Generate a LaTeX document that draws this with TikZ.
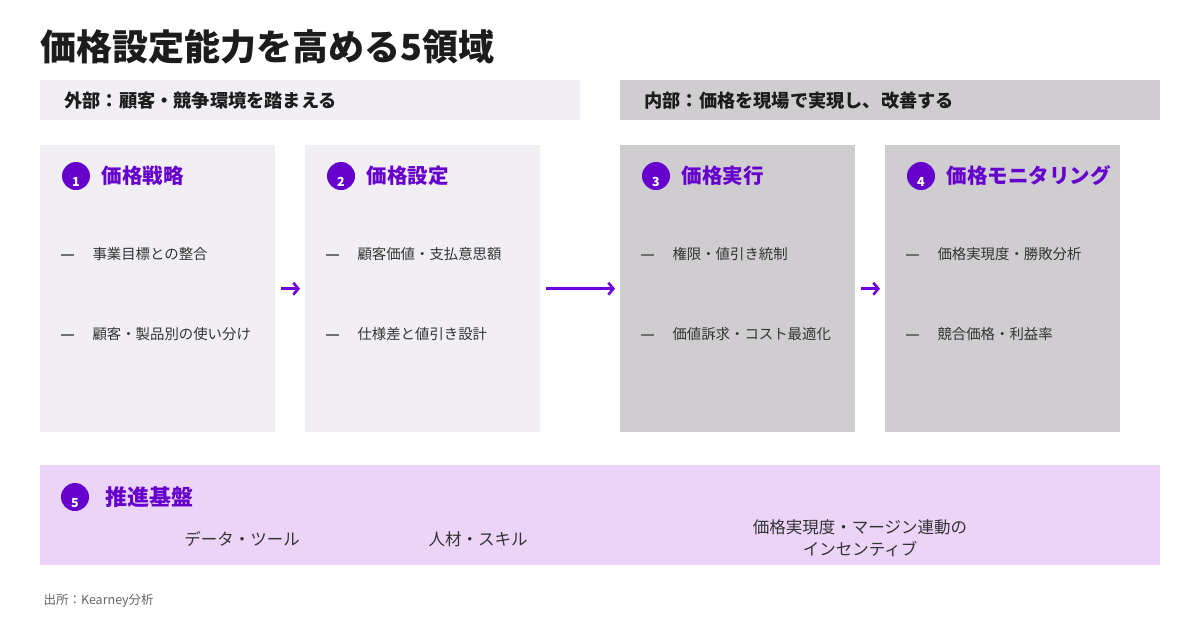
\documentclass[tikz,border=0pt]{standalone}
\usepackage{fontspec}
\setmainfont{Noto Sans CJK JP}
\usepackage{tikz}
\usetikzlibrary{positioning,arrows.meta}
\definecolor{figPurple}{HTML}{7000DC}
\definecolor{figDot}{HTML}{6600CC}
\definecolor{figInk}{HTML}{1C1C1C}
\definecolor{figText}{HTML}{333333}
\definecolor{figDash}{HTML}{707070}
\definecolor{figPale}{HTML}{F1EFF3}
\definecolor{figGray}{HTML}{D0CDD1}
\definecolor{figLavender}{HTML}{EBD4F7}
\definecolor{figSource}{HTML}{666666}

\begin{document}
\begin{tikzpicture}[x=1pt, y=-1pt,
  band/.style={anchor=north west, minimum width=540pt, minimum height=40pt, inner sep=0pt},
  bandtext/.style={anchor=west, text=figInk, font=\fontsize{18.2}{20}\selectfont\bfseries},
  card/.style={anchor=north west, minimum width=235pt, minimum height=287pt, inner sep=0pt},
  numdot/.style={circle, fill=figDot, minimum size=28pt, inner sep=0pt},
  numtext/.style={text=white, font=\fontsize{12.5}{13}\selectfont\bfseries, inner sep=0pt},
  cardtitle/.style={anchor=west, text=figDot, font=\fontsize{20.5}{24}\selectfont\bfseries},
  bulletdash/.style={draw=figDash, line width=1.4pt},
  item/.style={anchor=west, text=figText, font=\fontsize{14.4}{17}\selectfont},
  baseitem/.style={text=figText, font=\fontsize{16.5}{22}\selectfont, align=center},
  flow/.style={->, line width=2.6pt, figPurple, shorten <=6pt, shorten >=5pt},
  >={Straight Barb[length=5pt, width=12pt]}
]
\fill[white] (0,0) rectangle (1200,630);
\useasboundingbox (0,0) rectangle (1200,630);

% Title
\node[anchor=west, text=figInk, font=\fontsize{36}{40}\selectfont\bfseries] (title) at (37,47) {価格設定能力を高める5領域};

% External / internal bands
\node[band, fill=figPale] (extband) at (40,80) {};
\node[bandtext] (exttext) at ([xshift=21pt]extband.west) {外部：顧客・競争環境を踏まえる};
\node[band, fill=figGray] (intband) at (620,80) {};
\node[bandtext] (inttext) at ([xshift=21pt]intband.west) {内部：価格を現場で実現し、改善する};

% Four domain cards
\foreach \i/\x/\c/\t/\a/\b in {
    1/40/figPale/価格戦略/事業目標との整合/顧客・製品別の使い分け,
    2/305/figPale/価格設定/顧客価値・支払意思額/仕様差と値引き設計,
    3/620/figGray/価格実行/権限・値引き統制/価値訴求・コスト最適化,
    4/885/figGray/価格モニタリング/価格実現度・勝敗分析/競合価格・利益率} {
  \node[card, fill=\c] (card\i) at (\x,145) {};
  \node[numdot] (dot\i) at ([xshift=36pt, yshift=-31pt]card\i.north west) {};
  \node[numtext] (num\i) at ([yshift=-6pt]dot\i.center) {\i};
  \node[cardtitle] (ctitle\i) at ([xshift=22pt]dot\i.center) {\t};
  \draw[bulletdash] ([xshift=21pt, yshift=-110pt]card\i.north west) -- ++(13,0);
  \node[item] (itema\i) at ([xshift=49pt, yshift=-109pt]card\i.north west) {\a};
  \draw[bulletdash] ([xshift=21pt, yshift=-190pt]card\i.north west) -- ++(13,0);
  \node[item] (itemb\i) at ([xshift=49pt, yshift=-189pt]card\i.north west) {\b};
}

% Flow arrows
\draw[flow] (card1.east) -- (card2.west);
\draw[flow] (card2.east) -- (card3.west);
\draw[flow] (card3.east) -- (card4.west);

% Enabling foundation
\node[anchor=north west, minimum width=1120pt, minimum height=100pt, inner sep=0pt, fill=figLavender] (base) at (40,465) {};
\node[numdot] (dot5) at ([xshift=35pt, yshift=-32pt]base.north west) {};
\node[numtext] (num5) at ([yshift=-6pt]dot5.center) {5};
\node[cardtitle, font=\fontsize{22}{24}\selectfont\bfseries] (ctitle5) at ([xshift=27pt]dot5.center) {推進基盤};
\node[baseitem] (tools) at (242,539) {データ・ツール};
\node[baseitem] (talent) at (478,539) {人材・スキル};
\node[baseitem] (incent) at (860,538) {価格実現度・マージン連動の\\インセンティブ};

% Source
\node[anchor=west, text=figSource, font=\fontsize{12.5}{15}\selectfont] (source) at (40,601) {出所：Kearney分析};
\end{tikzpicture}
\end{document}
